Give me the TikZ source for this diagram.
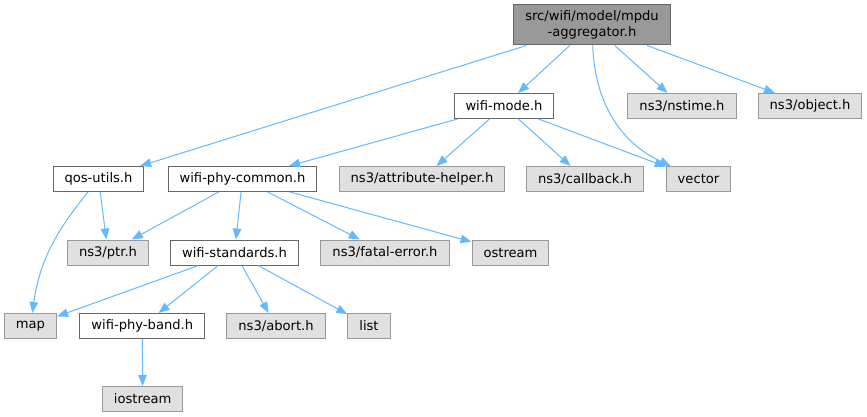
\documentclass[tikz,border=0pt]{standalone}
\usepackage{fontspec}
\setmainfont{DejaVu Sans}
\usetikzlibrary{arrows.meta}
\definecolor{edgeblue}{HTML}{63B8FF}

\begin{document}
\begin{tikzpicture}[x=1pt, y=-1pt,
        file/.style={draw=black!60, fill=white, line width=1pt, minimum height=25pt,
            inner xsep=11.5pt, inner ysep=0pt, font=\fontsize{13.1}{15.5}\selectfont},
        sys/.style={file, draw=black!40, fill=black!12},
        main/.style={file, fill=black!40, minimum height=40pt, align=center},
        inc/.style={edgeblue, line width=1pt, -{Triangle[length=11pt,width=8.5pt]}}]
        \useasboundingbox (0,0) rectangle (867,417);

        \node[main] (root) at (592,25) {src/wifi/model/mpdu\\-aggregator.h};

        \node[file] (mode) at (504,106) {wifi-mode.h};
        \node[sys] (nstime) at (682,106) {ns3/nstime.h};
        \node[sys] (object) at (810,106) {ns3/object.h};

        \node[file] (qos) at (98.5,179) {qos-utils.h};
        \node[file] (common) at (242.5,179) {wifi-phy-common.h};
        \node[sys] (attr) at (422,179) {ns3/attribute-helper.h};
        \node[sys] (callback) at (585,179) {ns3/callback.h};
        \node[sys] (vector) at (698.5,179) {vector};

        \node[sys] (ptr) at (108,252.5) {ns3/ptr.h};
        \node[file] (standards) at (234.5,252.5) {wifi-standards.h};
        \node[sys] (fatal) at (385,252.5) {ns3/fatal-error.h};
        \node[sys] (ostream) at (510.5,252.5) {ostream};

        \node[sys] (map) at (30.5,326) {map};
        \node[file] (band) at (142.3,326) {wifi-phy-band.h};
        \node[sys] (abort) at (276,326) {ns3/abort.h};
        \node[sys] (list) at (369,326) {list};

        \node[sys] (iostream) at (142.7,399) {iostream};

        \draw[inc] (root) -- (qos);
        \draw[inc] (root) -- (mode);
        \draw[inc] (root) to[out=-88, in=155] (vector);
        \draw[inc] (root) -- (nstime);
        \draw[inc] (root) -- (object);

        \draw[inc] (mode) -- (common);
        \draw[inc] (mode) -- (attr);
        \draw[inc] (mode) -- (callback);
        \draw[inc] (mode) -- (vector);

        \draw[inc] (qos) -- (ptr);
        \draw[inc] (qos) to[out=-129, in=82] (map);

        \draw[inc] (common) -- (ptr);
        \draw[inc] (common) -- (standards);
        \draw[inc] (common) -- (fatal);
        \draw[inc] (common) -- (ostream);

        \draw[inc] (standards) -- (map);
        \draw[inc] (standards) -- (band);
        \draw[inc] (standards) -- (abort);
        \draw[inc] (standards) -- (list);

        \draw[inc] (band) -- (iostream);
    \end{tikzpicture}
\end{document}
